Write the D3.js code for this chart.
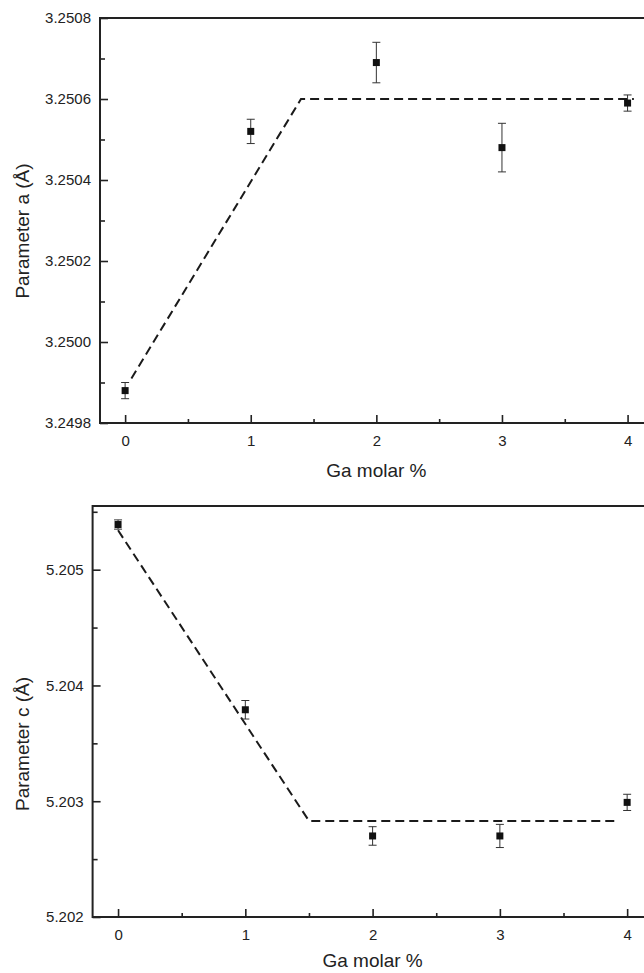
<!DOCTYPE html>
<html>
<head>
<meta charset="utf-8">
<script src="https://cdn.jsdelivr.net/npm/d3@7"></script>
<style>
  html, body { margin: 0; padding: 0; background: #fff; }
  svg { display: block; }
  text { font-family: "Liberation Sans", Arial, sans-serif; fill: #222; }
</style>
</head>
<body>
<svg id="chart" width="644" height="973"></svg>
<script>
// ---- data ----
const gaMolar = [0, 1, 2, 3, 4];
const paramA = [3.24988, 3.25052, 3.25069, 3.25048, 3.25059];
const paramAErr = [0.00002, 0.00003, 0.00005, 0.00006, 0.00002];
const fitAX = [0.05, 1.4, 4.05];
const fitAY = [3.24991, 3.2506, 3.25060];

const paramC = [5.20539, 5.20379, 5.20270, 5.20270, 5.20299];
const paramCErr = [0.00004, 0.00008, 0.00008, 0.00010, 0.00007];
const fitCX = [0, 1.5, 3.93];
const fitCY = [5.20534, 5.20283, 5.20283];

const xTicks = [0, 1, 2, 3, 4];
const xMinorTicks = [0.5, 1.5, 2.5, 3.5];
const aTicks = [3.2498, 3.2500, 3.2502, 3.2504, 3.2506, 3.2508];
const aMinorTicks = [3.2499, 3.2501, 3.2503, 3.2505, 3.2507];
const cTicks = [5.202, 5.203, 5.204, 5.205];
const cMinorTicks = [5.2025, 5.2035, 5.2045, 5.2055];

const xTitle = "Ga molar %";
const aTitle = "Parameter a (Å)";
const cTitle = "Parameter c (Å)";

const svg = d3.select("#chart");

function panel(cfg) {
  const x = d3.scaleLinear().domain([-0.2, 4.2]).range([cfg.left, cfg.right]);
  const y = d3.scaleLinear().domain(cfg.yDomain).range([cfg.bottom, cfg.top]);
  const g = svg.append("g");

  const xa = g.append("g").attr("transform", `translate(0,${cfg.bottom})`)
    .call(d3.axisBottom(x).tickValues(xTicks).tickSize(-8).tickPadding(12.5).tickFormat(d3.format("d")));
  const xm = g.append("g").attr("transform", `translate(0,${cfg.bottom})`)
    .call(d3.axisBottom(x).tickValues(xMinorTicks).tickSize(-4).tickFormat(""));
  const ya = g.append("g").attr("transform", `translate(${cfg.left},0)`)
    .call(d3.axisLeft(y).tickValues(cfg.yTicks).tickSize(-8).tickPadding(9).tickFormat(d3.format(cfg.yFmt)));
  const ym = g.append("g").attr("transform", `translate(${cfg.left},0)`)
    .call(d3.axisLeft(y).tickValues(cfg.yMinor).tickSize(-5).tickFormat(""));

  [xa, xm, ya, ym].forEach(a => {
    a.select(".domain").remove();
    a.attr("font-size", 15).attr("font-family", "'Liberation Sans', Arial, sans-serif");
    a.selectAll(".tick line").attr("stroke", "#222").attr("stroke-width", 1.6);
    a.selectAll(".tick text").attr("font-size", 15).attr("fill", "#222");
  });

  g.append("rect")
    .attr("x", cfg.left).attr("y", cfg.top)
    .attr("width", cfg.right - cfg.left).attr("height", cfg.bottom - cfg.top)
    .attr("fill", "none").attr("stroke", "#222").attr("stroke-width", 2);

  const fit = cfg.fitX.map((d, i) => [d, cfg.fitY[i]]);
  g.append("path")
    .attr("d", d3.line().x(d => x(d[0])).y(d => y(d[1]))(fit))
    .attr("fill", "none").attr("stroke", "#1a1a1a").attr("stroke-width", 2)
    .attr("stroke-dasharray", "9,5");

  const pts = gaMolar.map((d, i) => ({ x: d, v: cfg.vals[i], e: cfg.errs[i] }));
  const eb = g.append("g").attr("stroke", "#333").attr("stroke-width", 1);
  eb.selectAll("line.v").data(pts).join("line")
    .attr("x1", d => x(d.x)).attr("x2", d => x(d.x))
    .attr("y1", d => y(d.v + d.e)).attr("y2", d => y(d.v - d.e));
  eb.selectAll("line.t").data(pts).join("line")
    .attr("x1", d => x(d.x) - 4).attr("x2", d => x(d.x) + 4)
    .attr("y1", d => y(d.v + d.e)).attr("y2", d => y(d.v + d.e));
  eb.selectAll("line.b").data(pts).join("line")
    .attr("x1", d => x(d.x) - 4).attr("x2", d => x(d.x) + 4)
    .attr("y1", d => y(d.v - d.e)).attr("y2", d => y(d.v - d.e));

  g.selectAll("rect.pt").data(pts).join("rect")
    .attr("x", d => x(d.x) - 3.5).attr("y", d => y(d.v) - 3.5)
    .attr("width", 7).attr("height", 7).attr("fill", "#111");

  g.append("text")
    .attr("x", (x(0) + x(4)) / 2).attr("y", cfg.bottom + cfg.xTitleDy)
    .attr("text-anchor", "middle").attr("font-size", 19).text(xTitle);
  g.append("text")
    .attr("transform", `translate(${cfg.yTitleX},${cfg.yTitleY}) rotate(-90)`)
    .attr("text-anchor", "middle").attr("font-size", 19).text(cfg.yTitle);
}

panel({
  left: 100, right: 652.7, top: 18, bottom: 423,
  yDomain: [3.2498, 3.2508], yTicks: aTicks, yMinor: aMinorTicks, yFmt: ".4f",
  vals: paramA, errs: paramAErr, fitX: fitAX, fitY: fitAY,
  yTitle: aTitle, yTitleX: 29, yTitleY: 231, xTitleDy: 54
});

panel({
  left: 92.6, right: 652.6, top: 506, bottom: 917,
  yDomain: [5.202, 5.20555], yTicks: cTicks, yMinor: cMinorTicks, yFmt: ".3f",
  vals: paramC, errs: paramCErr, fitX: fitCX, fitY: fitCY,
  yTitle: cTitle, yTitleX: 29, yTitleY: 744, xTitleDy: 50
});
</script>
</body>
</html>
